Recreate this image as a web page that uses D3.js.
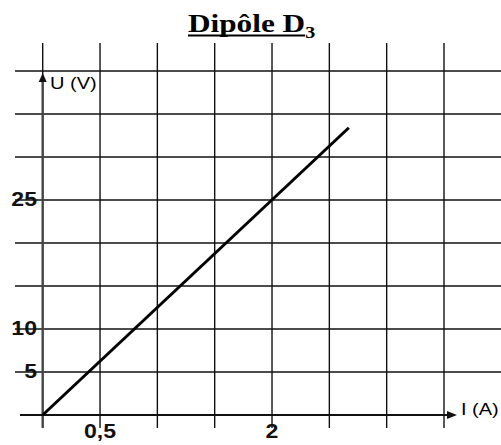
<!DOCTYPE html>
<html>
  <head>
    <meta charset="utf-8">
    <title>Dipôle D3</title>
    <script src="https://d3js.org/d3.v7.min.js"></script>
  </head>
  <style>
    body { margin: 0; background: #fff; }
  </style>
  <body>
  <svg width="501" height="445"></svg>
  <script>

  // data
  var current = [0, 2.67];     // I (A)
  var voltage = [0, 33.4];     // U (V)
  var gridI = [0, 0.5, 1, 1.5, 2, 2.5, 3, 3.5];
  var gridU = [5, 10, 15, 20, 25, 30, 35, 40];
  var tickI = [0.5, 2];
  var tickU = [5, 10, 25];

  var svg = d3.select("svg");

  var x = d3.scaleLinear().domain([0, 3.5]).range([42.7, 444]);
  var y = d3.scaleLinear().domain([0, 40]).range([415, 71]);

  var fmt = function(d) { return String(d).replace(".", ","); };

  // grid
  svg.append("g").selectAll("line")
    .data(gridI.slice(1))
    .enter().append("line")
    .attr("x1", function(d) { return x(d); })
    .attr("x2", function(d) { return x(d); })
    .attr("y1", 43).attr("y2", 428)
    .attr("stroke", "#111").attr("stroke-width", 1.4);

  // thin part of the y grid line above the arrow
  svg.append("line")
    .attr("x1", x(0)).attr("x2", x(0))
    .attr("y1", 43).attr("y2", 76)
    .attr("stroke", "#111").attr("stroke-width", 1.4);

  // tick labels (drawn under the lines, like the original)
  var labels = svg.append("g")
    .style("font-family", "'Liberation Sans', Arial, sans-serif")
    .style("font-weight", "bold")
    .style("font-size", "21px")
    .attr("fill", "#111");

  labels.selectAll(".tu")
    .data(tickU)
    .enter().append("text")
    .attr("text-anchor", "end")
    .attr("transform", function(d) { return "translate(37," + (y(d) + 6) + ") scale(1.1,1)"; })
    .text(fmt);

  labels.selectAll(".ti")
    .data(tickI)
    .enter().append("text")
    .attr("text-anchor", "middle")
    .attr("transform", function(d) { return "translate(" + x(d) + ",438) scale(1.1,1)"; })
    .text(fmt);

  svg.append("g").selectAll("line")
    .data(gridU)
    .enter().append("line")
    .attr("x1", 15).attr("x2", 501)
    .attr("y1", function(d) { return y(d); })
    .attr("y2", function(d) { return y(d); })
    .attr("stroke", "#111").attr("stroke-width", 1.4);

  // axes
  svg.append("line")
    .attr("x1", x(0)).attr("x2", x(0))
    .attr("y1", 428).attr("y2", 80)
    .attr("stroke", "#444").attr("stroke-width", 2.4);
  svg.append("path")
    .attr("d", "M" + x(0) + ",73 l-4,9 l8,0 z")
    .attr("fill", "#111");

  svg.append("line")
    .attr("x1", 20).attr("x2", 450)
    .attr("y1", y(0)).attr("y2", y(0))
    .attr("stroke", "#111").attr("stroke-width", 2);
  svg.append("path")
    .attr("d", "M457," + y(0) + " l-10,-4 l0,8 z")
    .attr("fill", "#111");

  // axis names
  svg.append("text")
    .attr("transform", "translate(50,89) scale(1.25,1)")
    .style("font-family", "'Liberation Sans', Arial, sans-serif")
    .style("font-size", "16px")
    .text("U (V)");

  svg.append("text")
    .attr("transform", "translate(461,415) scale(1.25,1)")
    .style("font-family", "'Liberation Sans', Arial, sans-serif")
    .style("font-size", "16px")
    .text("I (A)");

  // characteristic
  var pts = current.map(function(d, i) { return [d, voltage[i]]; });
  svg.append("path")
    .datum(pts)
    .attr("fill", "none")
    .attr("stroke", "#000")
    .attr("stroke-width", 3)
    .attr("d", d3.line()
      .x(function(d) { return x(d[0]); })
      .y(function(d) { return y(d[1]); }));

  // title
  var title = svg.append("text")
    .attr("transform", "translate(188,32) scale(1.25,1)")
    .style("font-family", "'Liberation Serif', 'Times New Roman', serif")
    .style("font-weight", "bold")
    .style("font-size", "25px");
  title.append("tspan").text("Dipôle D");
  title.append("tspan").attr("dy", 5.5).style("font-size", "16px").text("3");

  var w = title.select("tspan").node().getComputedTextLength() * 1.25;
  svg.append("line")
    .attr("x1", 188).attr("x2", 188 + w)
    .attr("y1", 35.5).attr("y2", 35.5)
    .attr("stroke", "#000").attr("stroke-width", 2);

  </script>
  </body>
</html>
